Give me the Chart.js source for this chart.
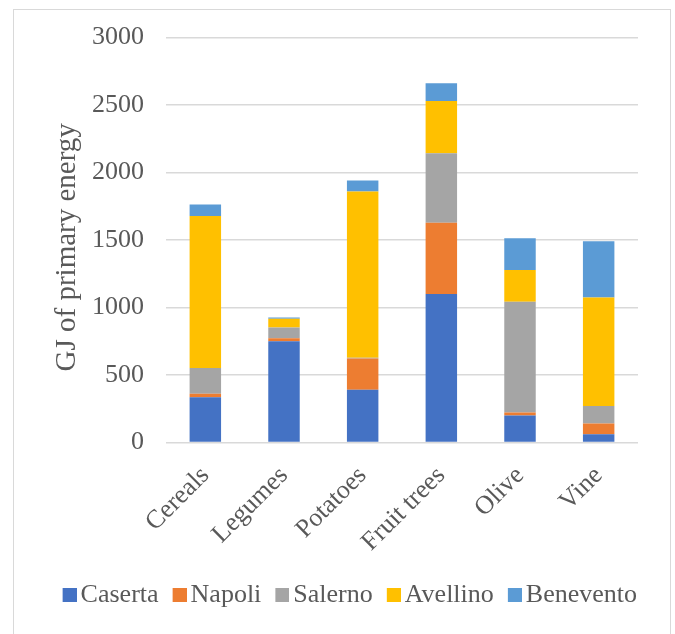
<!DOCTYPE html>
<html>
<head>
<meta charset="utf-8">
<script src="https://cdn.jsdelivr.net/npm/chart.js@4/dist/chart.umd.min.js"></script>
<style>
  html, body { margin: 0; padding: 0; background: #fff; }
  #wrap { position: relative; width: 675px; height: 634px; }
  #frame { position: absolute; left: 13px; top: 9px; width: 658px; height: 630px; border: 1px solid #d9d9d9; box-sizing: border-box; }
  canvas { position: absolute; left: 0; top: 0; }
</style>
</head>
<body>
<div id="wrap">
  <div id="frame"></div>
  <canvas id="chart" width="675" height="634"></canvas>
</div>
<script>
// categorie (colture) e valori per provincia, GJ di energia primaria
const crops = ['Cereals', 'Legumes', 'Potatoes', 'Fruit trees', 'Olive', 'Vine'];
const caserta   = [335, 750, 391, 1100, 200, 61];
const napoli    = [26, 22, 232, 528, 23, 80];
const salerno   = [191, 80, 5, 516, 819, 130];
const avellino  = [1126, 65, 1232, 387, 237, 803];
const benevento = [85, 10, 82, 130, 234, 417];
const yTicks = [0, 500, 1000, 1500, 2000, 2500, 3000];

const serif = "'Liberation Serif', 'Times New Roman', serif";
const grey = '#595959';
const colori = ['#4472C4', '#ED7D31', '#A5A5A5', '#FFC000', '#5B9BD5'];

// quadratino della legenda, spostato a destra per avvicinarlo al testo
function quadratino(colore) {
    const c = document.createElement('canvas');
    c.width = 24; c.height = 14;
    const g = c.getContext('2d');
    g.fillStyle = colore;
    g.fillRect(10, 0, 14, 14);
    return c;
}
const quadratini = colori.map(quadratino);

function serie(label, data, i) {
    return { label: label, data: data, backgroundColor: colori[i], borderWidth: 0 };
}

new Chart(document.getElementById('chart'), {
    type: 'bar',
    data: {
        labels: crops,
        datasets: [
            serie('Caserta', caserta, 0),
            serie('Napoli', napoli, 1),
            serie('Salerno', salerno, 2),
            serie('Avellino', avellino, 3),
            serie('Benevento', benevento, 4)
        ]
    },
    options: {
        responsive: false,
        animation: false,
        layout: { padding: { top: 36.5, right: 25, bottom: 16, left: 0 } },
        datasets: { bar: { categoryPercentage: 1, barPercentage: 0.4 } },
        plugins: {
            tooltip: { enabled: false },
            legend: {
                position: 'bottom',
                align: 'end',
                labels: {
                    color: grey,
                    font: { family: serif, size: 26 },
                    usePointStyle: true,
                    boxWidth: 6, boxHeight: 14, padding: 13,
                    generateLabels: function(chart) {
                        const items = Chart.defaults.plugins.legend.labels.generateLabels(chart);
                        items.forEach((it, i) => { it.pointStyle = quadratini[i]; });
                        return items;
                    }
                }
            }
        },
        scales: {
            x: {
                stacked: true,
                grid: { display: false },
                border: { display: false },
                ticks: {
                    color: grey, font: { family: serif, size: 26 },
                    minRotation: 45, maxRotation: 45, padding: 10
                },
                afterFit: function(scale) { scale.height = 126.5; }
            },
            y: {
                stacked: true,
                min: 0, max: 3000,
                afterBuildTicks: function(scale) { scale.ticks = yTicks.map(v => ({ value: v })); },
                grid: { color: '#d9d9d9', lineWidth: 1.5, drawTicks: false },
                border: { display: false },
                ticks: {
                    color: grey, font: { family: serif, size: 26 }, padding: 22,
                    callback: v => String(v)
                },
                title: {
                    display: true, text: 'GJ of primary energy  ',
                    color: grey, font: { family: serif, size: 29 },
                    padding: { top: 50, bottom: 0 }
                },
                afterFit: function(scale) { scale.width = 166; }
            },
            // asse vuoto a destra: solo per lasciare margine al grafico
            spazio: {
                type: 'linear', position: 'right',
                grid: { display: false }, border: { display: false },
                ticks: { display: false },
                afterFit: function(scale) { scale.width = 12; }
            }
        }
    }
});
</script>
</body>
</html>
